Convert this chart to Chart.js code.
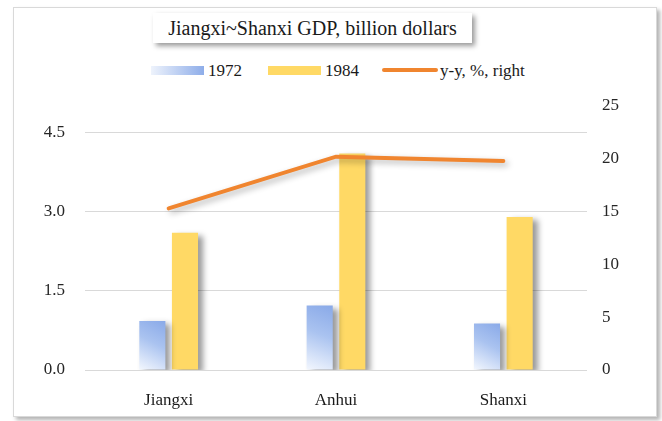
<!DOCTYPE html>
<html>
<head>
<meta charset="utf-8">
<script src="https://cdn.jsdelivr.net/npm/chart.js@4/dist/chart.umd.min.js"></script>
<style>
  body { margin: 0; width: 662px; height: 421px; background: #fff; position: relative; overflow: hidden;
         font-family: 'Liberation Serif', 'Times New Roman', serif; color: #1a1a1a; }
  #frame { position: absolute; left: 13px; top: 7px; width: 642px; height: 408px; border: 1px solid #d9d9d9;
           box-shadow: 3px 3px 4px rgba(0,0,0,0.3); background: #fff; }
  #title { position: absolute; left: 153px; top: 13px; width: 319px; height: 30px; background: #fff;
           box-shadow: 3px 3px 5px rgba(0,0,0,0.4); font-size: 20px; line-height: 30px; text-align: center; }
  .sw { position: absolute; height: 9px; width: 53px; top: 66px; }
  .lbl { position: absolute; top: 61px; font-size: 17px; line-height: 20px; }
  canvas { position: absolute; left: 0; top: 0; }
</style>
</head>
<body>
<div id="frame"></div>
<div id="title">Jiangxi~Shanxi GDP, billion dollars</div>
<div class="sw" style="left:151px; background: linear-gradient(to right, #eef3fc, #8eade9);"></div>
<div class="lbl" style="left:208px;">1972</div>
<div class="sw" style="left:268px; background:#ffd965;"></div>
<div class="lbl" style="left:325px;">1984</div>
<div class="sw" style="left:382px; top:68px; height:4px; border-radius:2px; width:56px; background:#f0852f;"></div>
<div class="lbl" style="left:440px;">y-y, %, right</div>
<canvas id="chart" width="662" height="421"></canvas>
<script>
const categories = ['Jiangxi', 'Anhui', 'Shanxi'];
const gdp1972 = [0.93, 1.22, 0.88];
const gdp1984 = [2.6, 4.1, 2.9];
const yoy = [15.3, 20.2, 19.8];
const leftTicks = [0, 1.5, 3.0, 4.5];

const font = { family: "'Liberation Serif', 'Times New Roman', serif", size: 17 };

function blueFill(c) {
    const chart = c.chart;
    if (!chart.chartArea || c.raw === undefined) return '#a9c0ee';
    const xs = chart.scales.x, ys = chart.scales.y;
    const cx = xs.getPixelForValue(c.dataIndex) - 16;
    const top = ys.getPixelForValue(c.raw);
    const base = ys.getPixelForValue(0);
    const g = chart.ctx.createLinearGradient(cx - 13, base, cx + 13, top);
    g.addColorStop(0, '#f3f7fe');
    g.addColorStop(0.55, '#aac3f0');
    g.addColorStop(1, '#89a9e8');
    return g;
}

// soft shadow behind bars and line
const shadowPlugin = {
    id: 'shadow',
    beforeDatasetDraw(chart, args) {
        const ctx = chart.ctx;
        ctx.save();
        const isLine = args.meta.type === 'line';
        ctx.shadowColor = isLine ? 'rgba(0,0,0,0.3)' : 'rgba(0,0,0,0.4)';
        ctx.shadowBlur = 6;
        ctx.shadowOffsetX = isLine ? 3 : 5;
        ctx.shadowOffsetY = 3;
    },
    afterDatasetDraw(chart) {
        chart.ctx.restore();
    }
};

new Chart(document.getElementById('chart').getContext('2d'), {
    type: 'bar',
    data: {
        labels: categories,
        datasets: [
            {
                type: 'line',
                label: 'y-y, %, right',
                data: yoy,
                yAxisID: 'y1',
                borderColor: '#f0852f',
                borderWidth: 4,
                borderCapStyle: 'round',
                pointRadius: 0,
                order: 0
            },
            {
                label: '1972',
                data: gdp1972,
                backgroundColor: blueFill,
                barPercentage: 0.8,
                categoryPercentage: 0.39,
                order: 1
            },
            {
                label: '1984',
                data: gdp1984,
                backgroundColor: '#ffd965',
                barPercentage: 0.8,
                categoryPercentage: 0.39,
                order: 1
            }
        ]
    },
    options: {
        responsive: false,
        animation: false,
        layout: { padding: { top: 106, left: 0, right: 0, bottom: 0 } },
        plugins: {
            legend: { display: false },
            title: { display: false },
            tooltip: { enabled: false }
        },
        scales: {
            x: {
                grid: { display: false },
                border: { display: false },
                ticks: { font: font, color: '#1a1a1a', padding: 12 },
                afterFit(s) { s.height = 51; }
            },
            y: {
                position: 'left',
                min: 0,
                max: 5,
                afterBuildTicks(s) { s.ticks = leftTicks.map(v => ({ value: v })); },
                grid: { color: '#d9d9d9', lineWidth: 1, drawTicks: false },
                border: { display: false },
                ticks: { font: font, color: '#262626', padding: 20, callback: v => v.toFixed(1) },
                afterFit(s) { s.width = 85; }
            },
            y1: {
                position: 'right',
                min: 0,
                max: 25,
                grid: { display: false, drawTicks: false },
                border: { display: false },
                ticks: { font: font, color: '#262626', stepSize: 5, padding: 15 },
                afterFit(s) { s.width = 75; }
            }
        }
    },
    plugins: [shadowPlugin]
});
</script>
</body>
</html>
